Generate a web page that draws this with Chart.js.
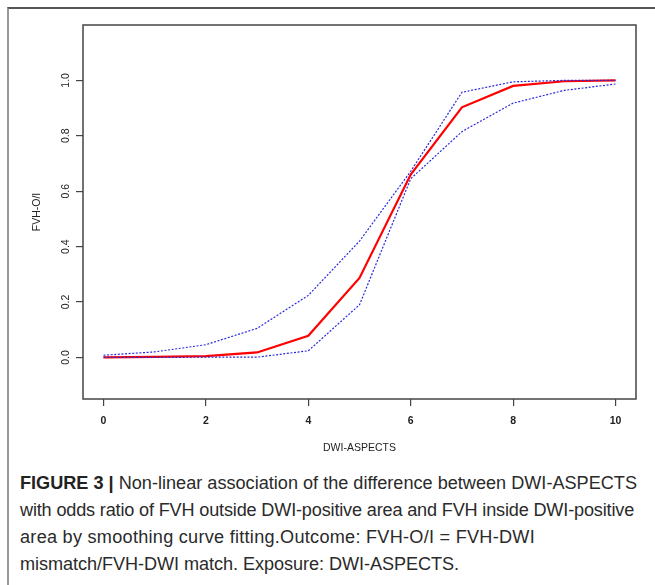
<!DOCTYPE html>
<html><head><meta charset="utf-8">
<script src="https://cdn.jsdelivr.net/npm/chart.js@4.4.1/dist/chart.umd.min.js"></script>
<style>
html,body{margin:0;padding:0;background:#fff;}
body{width:655px;height:585px;position:relative;overflow:hidden;font-family:"Liberation Sans",Arial,sans-serif;}
#frame{position:absolute;left:7px;top:7px;width:700px;height:700px;border-top:2px solid #555;border-left:2px solid #999;}
#wrap{position:absolute;left:0;top:0;width:655px;height:470px;}
#cap{position:absolute;left:20px;top:470px;line-height:27px;color:#2a2a2a;font-size:18px;}
#cap div{width:max-content;white-space:nowrap;}
#cap b{font-weight:bold;color:#222;}
</style></head><body>
<div id="frame"></div>
<div id="wrap"><canvas id="c" width="655" height="470"></canvas></div>
<div id="cap">
<div class="ln" data-w="617"><b>FIGURE 3 |</b> Non-linear association of the difference between DWI-ASPECTS</div>
<div class="ln" data-w="614">with odds ratio of FVH outside DWI-positive area and FVH inside DWI-positive</div>
<div class="ln" data-w="515">area by smoothing curve fitting.Outcome: FVH-O/I = FVH-DWI</div>
<div class="ln" data-w="439">mismatch/FVH-DWI match. Exposure: DWI-ASPECTS.</div>
</div>
<script>
// ---- data ----
const dwiAspects = [0, 1, 2, 3, 4, 5, 6, 7, 8, 9, 10];
const fitValues  = [0.000, 0.002, 0.005, 0.018, 0.078, 0.287, 0.660, 0.903, 0.980, 0.997, 1.000];
const upperCI    = [0.008, 0.020, 0.046, 0.105, 0.224, 0.420, 0.672, 0.957, 0.995, 1.000, 1.000];
const lowerCI    = [0.000, 0.000, 0.001, 0.001, 0.024, 0.190, 0.645, 0.815, 0.918, 0.964, 0.987];
const xTicks = [0, 2, 4, 6, 8, 10];
const yTicks = [0.0, 0.2, 0.4, 0.6, 0.8, 1.0];

// fit caption: font size from first line, then per-line letter spacing
(function(){
  const cap = document.getElementById('cap');
  const lines = Array.from(document.querySelectorAll('#cap .ln'));
  const w0 = lines[0].getBoundingClientRect().width;
  cap.style.fontSize = (18 * (+lines[0].dataset.w) / w0).toFixed(3) + 'px';
  lines.forEach(l => {
    const w = l.getBoundingClientRect().width;
    const n = l.textContent.length;
    const ls = ((+l.dataset.w) - w) / n;
    l.style.letterSpacing = ls.toFixed(3) + 'px';
  });
})();

const FAM = '"Liberation Sans", Arial, sans-serif';
const pts = arr => dwiAspects.map((x, i) => ({x: x, y: arr[i]}));

const boxPlugin = {
  id: 'box',
  afterDatasetsDraw(chart) {
    const {ctx, chartArea: a} = chart;
    ctx.save();
    ctx.strokeStyle = '#444';
    ctx.lineWidth = 1.5;
    ctx.strokeRect(a.left, a.top, a.right - a.left, a.bottom - a.top);
    ctx.restore();
  }
};

new Chart(document.getElementById('c'), {
  type: 'line',
  data: {
    datasets: [
      {data: pts(upperCI), borderColor: '#2828e0', borderWidth: 1.2, borderDash: [2, 1.6], pointRadius: 0, fill: false, tension: 0},
      {data: pts(lowerCI), borderColor: '#2828e0', borderWidth: 1.2, borderDash: [2, 1.6], pointRadius: 0, fill: false, tension: 0},
      {data: pts(fitValues), borderColor: '#ff0000', borderWidth: 2.2, pointRadius: 0, fill: false, tension: 0}
    ]
  },
  options: {
    responsive: false,
    animation: false,
    devicePixelRatio: 1,
    layout: {padding: {top: 25, right: 19, left: 0, bottom: 0}},
    plugins: {legend: {display: false}, tooltip: {enabled: false}},
    scales: {
      x: {
        type: 'linear', min: -0.4, max: 10.4,
        afterBuildTicks: s => { s.ticks = xTicks.map(v => ({value: v})); },
        afterFit: s => { s.height = 71; },
        grid: {drawOnChartArea: false, drawTicks: true, tickLength: 7, color: '#444', lineWidth: 1.2},
        border: {display: false},
        ticks: {font: {size: 10.5, weight: 'bold', family: FAM}, color: '#222', padding: 8.5, maxRotation: 0, autoSkip: false, callback: v => String(v)},
        title: {display: true, text: 'DWI-ASPECTS', font: {size: 10.5, family: FAM}, color: '#222', padding: {top: 0, bottom: 16}}
      },
      y: {
        type: 'linear', min: -0.15, max: 1.2,
        afterBuildTicks: s => { s.ticks = yTicks.map(v => ({value: v})); },
        afterFit: s => { s.width = 83; },
        grid: {drawOnChartArea: false, drawTicks: true, tickLength: 7, color: '#444', lineWidth: 1.2},
        border: {display: false},
        ticks: {font: {size: 10.5, family: FAM}, color: '#222', padding: 2.5, minRotation: 90, maxRotation: 90, crossAlign: 'center', autoSkip: false, callback: v => v.toFixed(1)},
        title: {display: true, text: 'FVH-O/I', font: {size: 10.5, family: FAM}, color: '#222', padding: {top: 31, bottom: 0}}
      }
    }
  },
  plugins: [boxPlugin]
});
</script>
</body></html>
